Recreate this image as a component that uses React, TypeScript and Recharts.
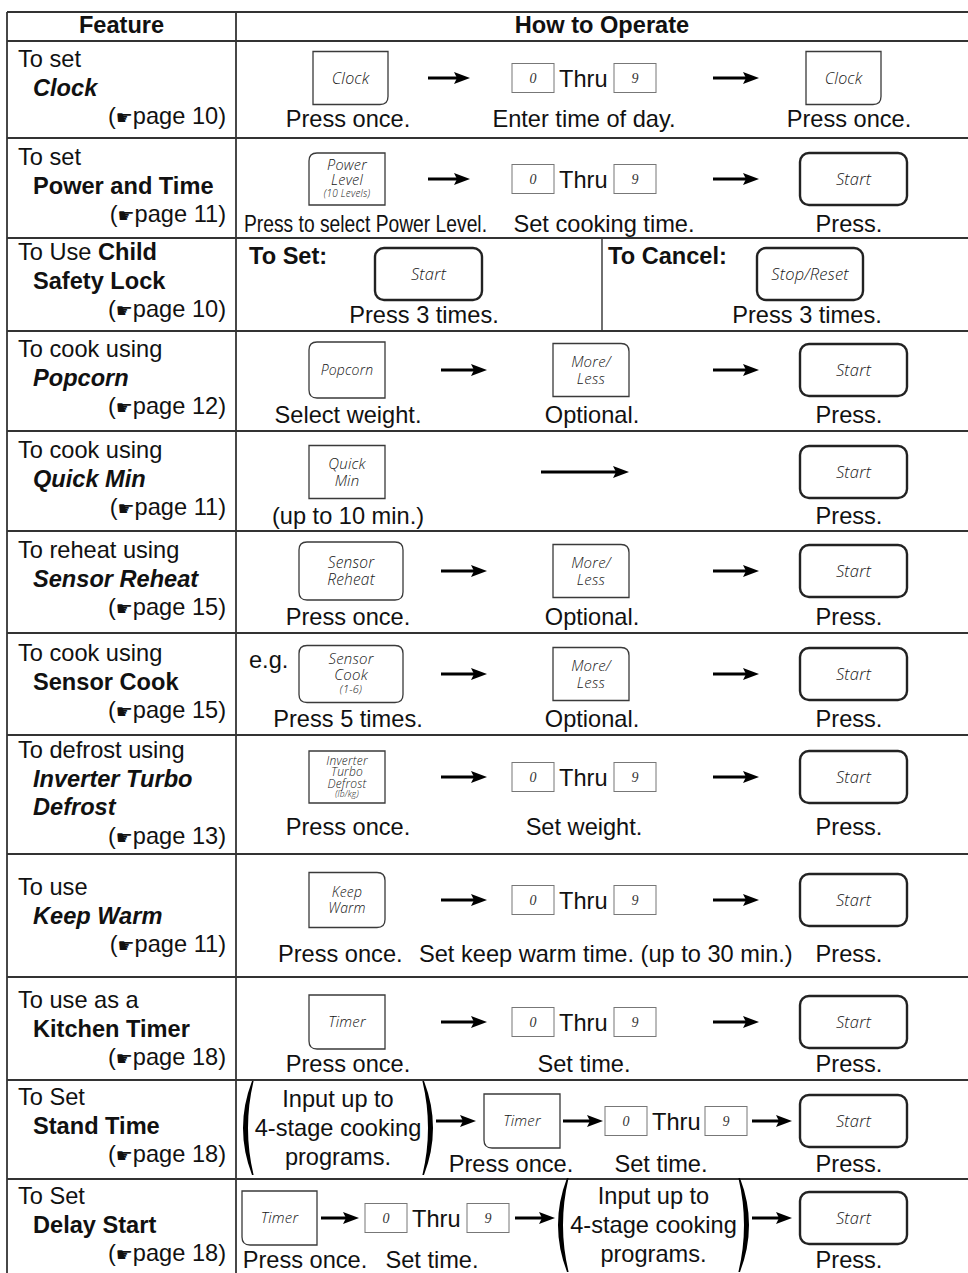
import React from 'react';
import { ComposedChart, Scatter, XAxis, YAxis, ReferenceLine } from 'recharts';

const W = 968;
const H = 1273;

// ---------- content ----------
const headers = ['Feature', 'How to Operate'];

const featureLead = ['To set', 'To set', 'To Use ', 'To cook using', 'To cook using', 'To reheat using', 'To cook using', 'To defrost using', 'To use', 'To use as a', 'To Set', 'To Set'];
const featureName = [['Clock'], ['Power and Time'], ['Child', 'Safety Lock'], ['Popcorn'], ['Quick Min'], ['Sensor Reheat'], ['Sensor Cook'], ['Inverter Turbo', 'Defrost'], ['Keep Warm'], ['Kitchen Timer'], ['Stand Time'], ['Delay Start']];
const featureInline = [false, false, true, false, false, false, false, false, false, false, false, false];
const featureItalic = [true, false, false, true, true, true, false, true, true, false, false, false];
const featurePage = [10, 11, 10, 12, 11, 15, 15, 13, 11, 18, 18, 18];

const PROGRAMS = 'Input up to|4-stage cooking|programs.';

// [kind, label, slot]
const steps: [string, string, string][][] = [
  [['key', 'Clock', 'k1c'], ['arrow', '', 'a1n'], ['digits', '', 'dg'], ['arrow', '', 'a2'], ['key', 'Clock', 'k3']],
  [['key', 'Power|Level|(10 Levels)', 'k1'], ['arrow', '', 'a1n'], ['digits', '', 'dg'], ['arrow', '', 'a2'], ['start', 'Start', 'st']],
  [['bold', 'To Set:', 'setL'], ['start', 'Start', 'cs1'], ['bold', 'To Cancel:', 'canL'], ['start', 'Stop/Reset', 'cs2']],
  [['key', 'Popcorn', 'k1'], ['arrow', '', 'a1'], ['key', 'More/|Less', 'ml'], ['arrow', '', 'a2'], ['start', 'Start', 'st']],
  [['key', 'Quick|Min', 'k1'], ['arrow', '', 'along'], ['start', 'Start', 'st']],
  [['key', 'Sensor|Reheat', 'k1w'], ['arrow', '', 'a1'], ['key', 'More/|Less', 'ml'], ['arrow', '', 'a2'], ['start', 'Start', 'st']],
  [['text', 'e.g.', 'eg'], ['key', 'Sensor|Cook|(1-6)', 'k1w'], ['arrow', '', 'a1'], ['key', 'More/|Less', 'ml'], ['arrow', '', 'a2'], ['start', 'Start', 'st']],
  [['key', 'Inverter|Turbo|Defrost|(lb/kg)', 'k1'], ['arrow', '', 'a1'], ['digits', '', 'dg'], ['arrow', '', 'a2'], ['start', 'Start', 'st']],
  [['key', 'Keep|Warm', 'k1'], ['arrow', '', 'a1'], ['digits', '', 'dg'], ['arrow', '', 'a2'], ['start', 'Start', 'st']],
  [['key', 'Timer', 'k1'], ['arrow', '', 'a1'], ['digits', '', 'dg'], ['arrow', '', 'a2'], ['start', 'Start', 'st']],
  [['paren', PROGRAMS, 'p11'], ['arrow', '', 'a11a'], ['key', 'Timer', 't11'], ['arrow', '', 'a11b'], ['digits', '', 'dg11'], ['arrow', '', 'a11c'], ['start', 'Start', 'st']],
  [['key', 'Timer', 't12'], ['arrow', '', 'a12a'], ['digits', '', 'dg12'], ['arrow', '', 'a12b'], ['paren', PROGRAMS, 'p12'], ['arrow', '', 'a12c'], ['start', 'Start', 'st']],
];

// [caption, slot]
const captions: [string, string][][] = [
  [['Press once.', 'c1'], ['Enter time of day.', 'cmid'], ['Press once.', 'c3']],
  [['Press to select Power Level.', 'cpl'], ['Set cooking time.', 'cset'], ['Press.', 'c3']],
  [['Press 3 times.', 'cs1'], ['Press 3 times.', 'cs2']],
  [['Select weight.', 'c1'], ['Optional.', 'cml'], ['Press.', 'c3']],
  [['(up to 10 min.)', 'c1'], ['Press.', 'c3']],
  [['Press once.', 'c1'], ['Optional.', 'cml'], ['Press.', 'c3']],
  [['Press 5 times.', 'c1'], ['Optional.', 'cml'], ['Press.', 'c3']],
  [['Press once.', 'c1'], ['Set weight.', 'cmid'], ['Press.', 'c3']],
  [['Press once.', 'ckw1'], ['Set keep warm time. (up to 30 min.)', 'ckw2'], ['Press.', 'c3']],
  [['Press once.', 'c1'], ['Set time.', 'cmid'], ['Press.', 'c3']],
  [['Press once.', 'c11a'], ['Set time.', 'c11b'], ['Press.', 'c3']],
  [['Press once.', 'c12a'], ['Set time.', 'c12b'], ['Press.', 'c3']],
];

// ---------- layout ----------
const TABLE_TOP = 12;
const HEAD_BOTTOM = 41;
const LEFT = 7;
const SPLIT = 236;
const CHILD_SPLIT = 602;
const rowTop = [41, 138, 238, 331, 431, 531, 633, 735, 854, 977, 1080, 1179];
const rowMid = [78, 179, 274, 370, 472, 571, 674, 777, 900, 1022, 1121, 1218];
const rowCap = [127, 232, 323, 423, 524, 625, 727, 835, 962, 1072, 1172, 1268];
const rowFeat = [67, 165, 260, 357, 458, 558, 661, 758, 895, 1008, 1105, 1204];
const LINE = 28.6;

const SLOT: Record<string, [number, number]> = {
  k1: [309, 385], k1c: [313, 388], k1w: [299, 403], k3: [806, 881],
  a1n: [428, 470], a1: [441, 487], a2: [713, 759], along: [541, 629],
  dg: [512, 656], ml: [553, 629], st: [800, 907],
  setL: [249, 249], canL: [608, 608], eg: [249, 249],
  cs1: [375, 482], cs2: [757, 863],
  p11: [242, 434], a11a: [436, 476], t11: [484, 560], a11b: [563, 603], dg11: [605, 747], a11c: [752, 792],
  t12: [242, 317], a12a: [321, 359], dg12: [365, 509], a12b: [515, 555], p12: [557, 750], a12c: [752, 792],
};
const TEXT_Y: Record<string, number> = { setL: 26, canL: 26, eg: 35 };

const CAP: Record<string, [number, string]> = {
  c1: [348, 'middle'], cmid: [584, 'middle'], cset: [604, 'middle'], c3: [849, 'middle'],
  cml: [592, 'middle'], cs1: [424, 'middle'], cs2: [807, 'middle'],
  cpl: [244, 'start'], ckw1: [278, 'start'], ckw2: [419, 'start'],
  c11a: [511, 'middle'], c11b: [661, 'middle'], c12a: [305, 'middle'], c12b: [432, 'middle'],
};
const CAP_FIT: Record<string, number> = { cpl: 243 };

const KEY_STYLE: Record<string, { corners: string; h: number; sizes: number[]; gap?: number }> = {
  'Clock': { corners: 'br', h: 53, sizes: [16] },
  'Power|Level|(10 Levels)': { corners: 'tl', h: 52, sizes: [14.5, 14.5, 10] },
  'Popcorn': { corners: 'tl bl', h: 56, sizes: [14] },
  'More/|Less': { corners: 'tr', h: 53, sizes: [15, 15] },
  'Quick|Min': { corners: '', h: 53, sizes: [15, 15] },
  'Sensor|Reheat': { corners: 'tl tr br bl', h: 58, sizes: [15.5, 15.5] },
  'Sensor|Cook|(1-6)': { corners: 'tl tr br bl', h: 57, sizes: [15, 15, 11] },
  'Inverter|Turbo|Defrost|(lb/kg)': { corners: '', h: 52, sizes: [12, 12, 12, 8.5], gap: 0.9 },
  'Keep|Warm': { corners: 'tr br', h: 55, sizes: [14, 14] },
  'Timer': { corners: 'bl', h: 54, sizes: [15] },
};

const SANS = '"Liberation Sans", Arial, Helvetica, sans-serif';
const KEYFONT = '"Open Sans", "DejaVu Sans", sans-serif';
const SERIF = '"Liberation Serif", "Times New Roman", serif';
const FS = 23.6;
const INK = '#111';
const LINE_COLOR = '#333';

type Seg = { t: string; b?: boolean; i?: boolean; hand?: boolean };
type Item = { x: number; y: number; kind: string; text?: string; w?: number; segs?: Seg[]; anchor?: string; fit?: number };

// ---------- build marks ----------
const items: Item[] = [];
items.push({ kind: 'seg', x: (LEFT + SPLIT) / 2, y: 33, anchor: 'middle', segs: [{ t: headers[0], b: true }] });
items.push({ kind: 'seg', x: (SPLIT + W) / 2, y: 33, anchor: 'middle', segs: [{ t: headers[1], b: true }] });

featureLead.forEach((lead, r) => {
  const names = featureName[r];
  let y = rowFeat[r];
  const first: Seg[] = [{ t: lead }];
  let rest = names;
  if (featureInline[r]) {
    first.push({ t: names[0], b: true });
    rest = names.slice(1);
  }
  items.push({ kind: 'seg', x: 18, y, anchor: 'start', segs: first });
  rest.forEach((n) => {
    y += LINE;
    items.push({ kind: 'seg', x: 33, y, anchor: 'start', segs: [{ t: n, b: true, i: featureItalic[r] }] });
  });
  y += LINE;
  items.push({ kind: 'seg', x: 226, y, anchor: 'end', segs: [{ t: '(' }, { t: '\u261B', hand: true }, { t: `page ${featurePage[r]})` }] });
});

steps.forEach((row, r) => {
  row.forEach(([kind, label, slot]) => {
    const [x0, x1] = SLOT[slot];
    if (kind === 'bold' || kind === 'text') {
      items.push({ kind: 'seg', x: x0, y: rowTop[r] + TEXT_Y[slot], anchor: 'start', segs: [{ t: label, b: kind === 'bold' }] });
    } else {
      items.push({ kind, text: label, x: (x0 + x1) / 2, y: rowMid[r], w: x1 - x0 });
    }
  });
  captions[r].forEach(([c, slot]) => {
    const [x, anchor] = CAP[slot];
    items.push({ kind: 'seg', x, y: rowCap[r], anchor, fit: CAP_FIT[slot], segs: [{ t: c }] });
  });
});

// ---------- drawing helpers ----------
function boxPath(x: number, y: number, w: number, h: number, corners: string, r: number) {
  const tl = corners.includes('tl') ? r : 0;
  const tr = corners.includes('tr') ? r : 0;
  const br = corners.includes('br') ? r : 0;
  const bl = corners.includes('bl') ? r : 0;
  return `M${x + tl},${y} H${x + w - tr} Q${x + w},${y} ${x + w},${y + tr} V${y + h - br} Q${x + w},${y + h} ${x + w - br},${y + h} H${x + bl} Q${x},${y + h} ${x},${y + h - bl} V${y + tl} Q${x},${y} ${x + tl},${y} Z`;
}

// crescent-shaped bracket, dir = 1 for "(" and -1 for ")"
function parenPath(xOuter: number, top: number, bot: number, dir: number) {
  const depth = 9;
  const thick = 5;
  const mid = (top + bot) / 2;
  const xe = xOuter + dir * depth; // x of the tips
  const cOut = 2 * xOuter - xe;
  const xi = xOuter + dir * thick;
  const xe2 = xe + dir * 1.6;
  const cIn = 2 * xi - xe2;
  return `M${xe},${top} Q${cOut},${mid} ${xe},${bot} L${xe2},${bot} Q${cIn},${mid} ${xe2},${top} Z`;
}

function KeyLabel({ cx, cy, lines, sizes, gap = 1 }: { cx: number; cy: number; lines: string[]; sizes: number[]; gap?: number }) {
  const steps2 = sizes.map((s, i) => (i === 0 ? 0 : ((sizes[i - 1] + s) / 2) * 1.08 * gap));
  const total = steps2.reduce((a, b) => a + b, 0);
  let c = cy - total / 2;
  return (
    <>
      {lines.map((l, i) => {
        c += steps2[i];
        return (
          <text key={i} x={cx} y={c + sizes[i] * 0.36} textAnchor="middle" fontFamily={KEYFONT} fontStyle="italic" fontWeight={300} fontSize={sizes[i]} fill="#151515" letterSpacing={0.2}>
            {l}
          </text>
        );
      })}
    </>
  );
}

function Mark(props: any) {
  const { cx, cy, payload } = props;
  const p: Item = payload;
  if (cx == null || cy == null) return null;
  switch (p.kind) {
    case 'seg':
      return (
        <text x={cx} y={cy} textAnchor={p.anchor} fontFamily={SANS} fontSize={FS} fill={INK} style={{ whiteSpace: 'pre' }}
          {...(p.fit ? { textLength: p.fit, lengthAdjust: 'spacingAndGlyphs' } : {})}>
          {p.segs!.map((s, i) => (
            <tspan key={i} fontWeight={s.b ? 'bold' : 'normal'} fontStyle={s.i ? 'italic' : 'normal'}
              fontFamily={s.hand ? '"DejaVu Sans", sans-serif' : SANS} fontSize={s.hand ? 19 : FS}>
              {s.t}
            </tspan>
          ))}
        </text>
      );
    case 'key': {
      const st = KEY_STYLE[p.text!];
      const w = p.w!;
      const h = st.h;
      return (
        <g>
          <path d={boxPath(cx - w / 2, cy - h / 2, w, h, st.corners, 8)} fill="#fff" stroke="#3a3a3a" strokeWidth={1.3} />
          <KeyLabel cx={cx} cy={cy} lines={p.text!.split('|')} sizes={st.sizes} gap={st.gap} />
        </g>
      );
    }
    case 'start': {
      const w = p.w!;
      const h = 52;
      return (
        <g>
          <rect x={cx - w / 2} y={cy - h / 2} width={w} height={h} rx={9} ry={9} fill="#fff" stroke="#222" strokeWidth={2.4} />
          <KeyLabel cx={cx} cy={cy} lines={[p.text!]} sizes={[16.5]} />
        </g>
      );
    }
    case 'digits': {
      const x0 = cx - p.w! / 2;
      const x1 = cx + p.w! / 2;
      const bw = 42;
      const bh = 29;
      return (
        <g>
          <rect x={x0} y={cy - bh / 2} width={bw} height={bh} fill="#fff" stroke="#777" strokeWidth={1} />
          <text x={x0 + bw / 2} y={cy + 5} textAnchor="middle" fontFamily={SERIF} fontStyle="italic" fontSize={14} fill="#333">0</text>
          <text x={x0 + 47} y={cy + 8.5} fontFamily={SANS} fontSize={FS} fill={INK}>Thru</text>
          <rect x={x1 - bw} y={cy - bh / 2} width={bw} height={bh} fill="#fff" stroke="#777" strokeWidth={1} />
          <text x={x1 - bw / 2} y={cy + 5} textAnchor="middle" fontFamily={SERIF} fontStyle="italic" fontSize={14} fill="#333">9</text>
        </g>
      );
    }
    case 'arrow': {
      const x0 = cx - p.w! / 2;
      const x1 = cx + p.w! / 2;
      const hl = 16;
      return (
        <g>
          <line x1={x0} y1={cy} x2={x1 - hl + 3} y2={cy} stroke="#000" strokeWidth={3} />
          <path d={`M${x1 - hl},${cy - 6} L${x1},${cy} L${x1 - hl},${cy + 6} L${x1 - hl + 3},${cy} Z`} fill="#000" />
        </g>
      );
    }
    case 'paren': {
      const x0 = cx - p.w! / 2;
      const x1 = cx + p.w! / 2;
      const mid = cy + 7;
      const top = mid - 47;
      const bot = mid + 47;
      const lines = p.text!.split('|');
      return (
        <g>
          <path d={parenPath(x0 + 1, top, bot, 1)} fill="#000" />
          <path d={parenPath(x1 - 1, top, bot, -1)} fill="#000" />
          {lines.map((l, i) => (
            <text key={i} x={cx} y={mid + (i - 1) * 29 + 8} textAnchor="middle" fontFamily={SANS} fontSize={FS} fill={INK}>{l}</text>
          ))}
        </g>
      );
    }
    default:
      return null;
  }
}

const hLines = [TABLE_TOP, HEAD_BOTTOM, ...rowTop.slice(1)];

export default function App() {
  return (
    <div style={{ position: 'absolute', left: 0, top: 0, background: '#fff' }}>
      <ComposedChart width={W} height={H} margin={{ top: 0, right: 0, bottom: 0, left: 0 }}>
        <XAxis type="number" dataKey="x" domain={[0, W]} hide allowDataOverflow />
        <YAxis type="number" dataKey="y" domain={[0, H]} reversed hide allowDataOverflow />
        {hLines.map((y, i) => (
          <ReferenceLine key={`h${i}`} segment={[{ x: LEFT, y }, { x: W, y }]} stroke={LINE_COLOR} strokeWidth={1.8} ifOverflow="visible" />
        ))}
        <ReferenceLine segment={[{ x: LEFT, y: TABLE_TOP }, { x: LEFT, y: H }]} stroke={LINE_COLOR} strokeWidth={1.8} ifOverflow="visible" />
        <ReferenceLine segment={[{ x: SPLIT, y: TABLE_TOP }, { x: SPLIT, y: H }]} stroke={LINE_COLOR} strokeWidth={1.8} ifOverflow="visible" />
        <ReferenceLine segment={[{ x: CHILD_SPLIT, y: rowTop[2] }, { x: CHILD_SPLIT, y: rowTop[3] }]} stroke={LINE_COLOR} strokeWidth={1.4} ifOverflow="visible" />
        <Scatter data={items} shape={(props: any) => <Mark {...props} />} isAnimationActive={false} />
      </ComposedChart>
    </div>
  );
}
